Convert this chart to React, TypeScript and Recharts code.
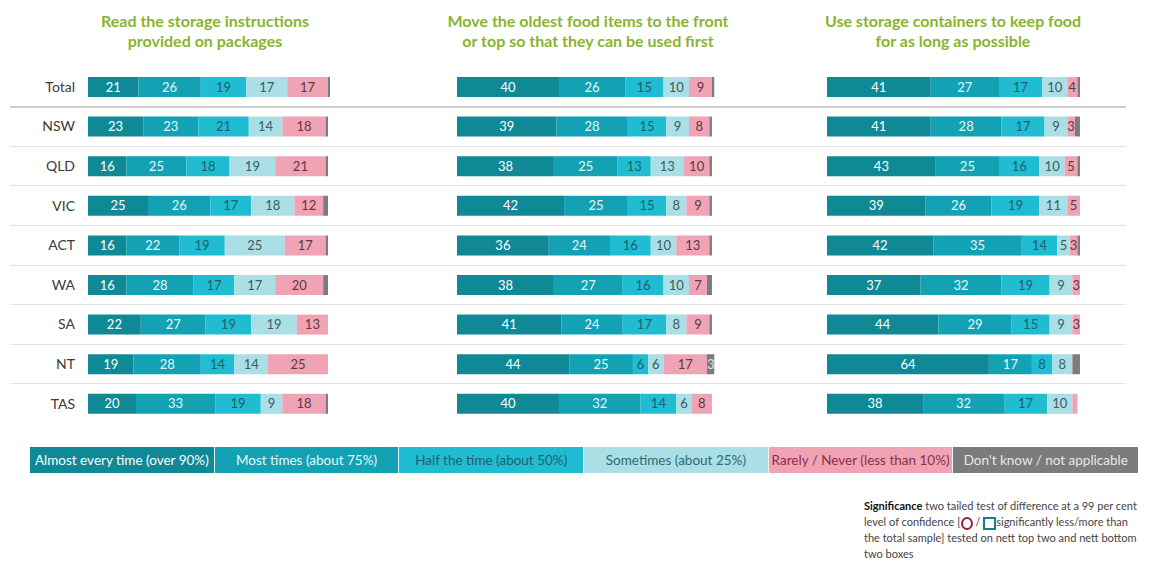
import React from "react";
import { BarChart, Bar, XAxis, YAxis, LabelList } from "recharts";

const regions = ["Total", "NSW", "QLD", "VIC", "ACT", "WA", "SA", "NT", "TAS"];

// panel 1: Read the storage instructions provided on packages
const readAlmost = [21, 23, 16, 25, 16, 16, 22, 19, 20];
const readMost = [26, 23, 25, 26, 22, 28, 27, 28, 33];
const readHalf = [19, 21, 18, 17, 19, 17, 19, 14, 19];
const readSometimes = [17, 14, 19, 18, 25, 17, 19, 14, 9];
const readRarely = [17, 18, 21, 12, 17, 20, 13, 25, 18];
const readDontKnow = [1, 1, 1, 2, 1, 2, 0, 0, 1];

// panel 2: Move the oldest food items to the front
const moveAlmost = [40, 39, 38, 42, 36, 38, 41, 44, 40];
const moveMost = [26, 28, 25, 25, 24, 27, 24, 25, 32];
const moveHalf = [15, 15, 13, 15, 16, 16, 17, 6, 14];
const moveSometimes = [10, 9, 13, 8, 10, 10, 8, 6, 6];
const moveRarely = [9, 8, 10, 9, 13, 7, 9, 17, 8];
const moveDontKnow = [1, 1, 1, 1, 1, 2, 1, 3, 0];

// panel 3: Use storage containers to keep food for as long as possible
const keepAlmost = [41, 41, 43, 39, 42, 37, 44, 64, 38];
const keepMost = [27, 28, 25, 26, 35, 32, 29, 17, 32];
const keepHalf = [17, 17, 16, 19, 14, 19, 15, 8, 17];
const keepSometimes = [10, 9, 10, 11, 5, 9, 9, 8, 10];
const keepRarely = [4, 3, 5, 5, 3, 3, 3, 0, 2];
const keepDontKnow = [1, 2, 1, 0, 1, 0, 0, 3, 0];

const seriesNames = [
  "Almost every time (over 90%)",
  "Most times (about 75%)",
  "Half the time (about 50%)",
  "Sometimes (about 25%)",
  "Rarely / Never (less than 10%)",
  "Don't know / not applicable",
];
const seriesKeys = ["almost", "most", "half", "sometimes", "rarely", "dontKnow"];
const fills = ["#0f8995", "#12a2b3", "#1fbcd2", "#aadfe5", "#f0a3b4", "#7c7c7c"];
const labelColors = ["#ffffff", "#e4f7f9", "#1d5f6b", "#3f5a60", "#5e3842", "#e0e0e0"];
const legendText = ["#ffffff", "#e8f8fa", "#235f69", "#2c6a72", "#8c2f4a", "#e8e8e8"];

const buildRows = (cols: number[][]) =>
  regions.map((name, i) => {
    const row: Record<string, any> = { name };
    seriesKeys.forEach((k, j) => (row[k] = cols[j][i]));
    return row;
  });

const readData = buildRows([readAlmost, readMost, readHalf, readSometimes, readRarely, readDontKnow]);
const moveData = buildRows([moveAlmost, moveMost, moveHalf, moveSometimes, moveRarely, moveDontKnow]);
const keepData = buildRows([keepAlmost, keepMost, keepHalf, keepSometimes, keepRarely, keepDontKnow]);

const FONT = "Lato, 'Open Sans', sans-serif";
const TOP = 67;
const BAND = 39.6;
const CHART_H = BAND * regions.length;

interface PanelProps {
  data: Record<string, any>[];
  left: number;
  width: number;
  showAxis?: boolean;
  showDkLabels?: boolean;
}

const Panel: React.FC<PanelProps> = ({ data, left, width, showAxis, showDkLabels }) => {
  const axisW = showAxis ? 58 : 0;
  return (
    <div style={{ position: "absolute", left: left - axisW, top: TOP }}>
      <BarChart
        layout="vertical"
        width={width + axisW}
        height={CHART_H}
        data={data}
        margin={{ top: 0, right: 0, bottom: 0, left: 0 }}
        barSize={20}
      >
        <XAxis type="number" hide domain={[0, 101]} allowDataOverflow />
        <YAxis
          type="category"
          dataKey="name"
          hide={!showAxis}
          width={axisW}
          axisLine={false}
          tickLine={false}
          tickSize={0}
          tickMargin={13}
          tick={{ fill: "#3a3a3a", fontSize: 14, fontFamily: FONT }}
        />
        {seriesKeys.map((k, j) => (
          <Bar key={k} dataKey={k} name={seriesNames[j]} stackId="s" fill={fills[j]} isAnimationActive={false}>
            <LabelList
              dataKey={k}
              position="center"
              fill={labelColors[j]}
              fontSize={13}
              fontFamily={FONT}
              formatter={(v: any) =>
                v < 3 || (k === "dontKnow" && !showDkLabels) ? "" : v
              }
            />
          </Bar>
        ))}
      </BarChart>
    </div>
  );
};

const titleStyle = (cx: number): React.CSSProperties => ({
  position: "absolute",
  left: cx - 190,
  width: 380,
  top: 11,
  textAlign: "center",
  color: "#8ab32e",
  fontWeight: 700,
  fontSize: 16,
  lineHeight: "20px",
  fontFamily: FONT,
});

export default function App() {
  return (
    <div
      style={{
        position: "absolute",
        left: 0,
        top: 0,
        width: 1170,
        height: 562,
        overflow: "hidden",
        background: "#fff",
        fontFamily: FONT,
      }}
    >
      <div style={titleStyle(205)}>
        Read the storage instructions
        <br />
        provided on packages
      </div>
      <div style={titleStyle(588)}>
        Move the oldest food items to the front
        <br />
        or top so that they can be used first
      </div>
      <div style={titleStyle(953)}>
        Use storage containers to keep food
        <br />
        for as long as possible
      </div>

      {regions.slice(1).map((r, i) => (
        <div
          key={r}
          style={{
            position: "absolute",
            left: 10,
            width: 1116,
            top: TOP + BAND * (i + 1) - (i === 0 ? 1 : 0.5),
            height: i === 0 ? 2 : 1,
            background: i === 0 ? "#cfcfcf" : "#e2e2e2",
          }}
        />
      ))}

      <Panel data={readData} left={88} width={242.4} showAxis />
      <Panel data={moveData} left={457} width={257.5} showDkLabels />
      <Panel data={keepData} left={827} width={255.5} />

      <div style={{ position: "absolute", left: 30, top: 447, display: "flex" }}>
        {seriesNames.map((n, j) => (
          <div
            key={n}
            style={{
              width: 184.7,
              height: 26,
              boxSizing: "border-box",
              borderRight: j < 5 ? "1px solid #e8f4f5" : "none",
              background: fills[j],
              color: legendText[j],
              fontSize: 13.5,
              lineHeight: "26px",
              textAlign: "center",
              whiteSpace: "nowrap",
            }}
          >
            {n}
          </div>
        ))}
      </div>

      <div
        style={{
          position: "absolute",
          left: 864,
          top: 498,
          width: 300,
          fontSize: 11,
          lineHeight: "16px",
          color: "#444",
          fontFamily: FONT,
        }}
      >
        <b style={{ color: "#111" }}>Significance</b> two tailed test of difference at a 99 per cent
        <br />
        level of confidence [
        <span
          style={{
            display: "inline-block",
            width: 12,
            height: 13,
            border: "2px solid #9e1f3d",
            borderRadius: "50%",
            verticalAlign: "middle",
            boxSizing: "border-box",
          }}
        />{" "}
        /{" "}
        <span
          style={{
            display: "inline-block",
            width: 13,
            height: 13,
            border: "2px solid #167f8c",
            verticalAlign: "middle",
            boxSizing: "border-box",
          }}
        />
        significantly less/more than
        <br />
        the total sample] tested on nett top two and nett bottom
        <br />
        two boxes
      </div>
    </div>
  );
}
